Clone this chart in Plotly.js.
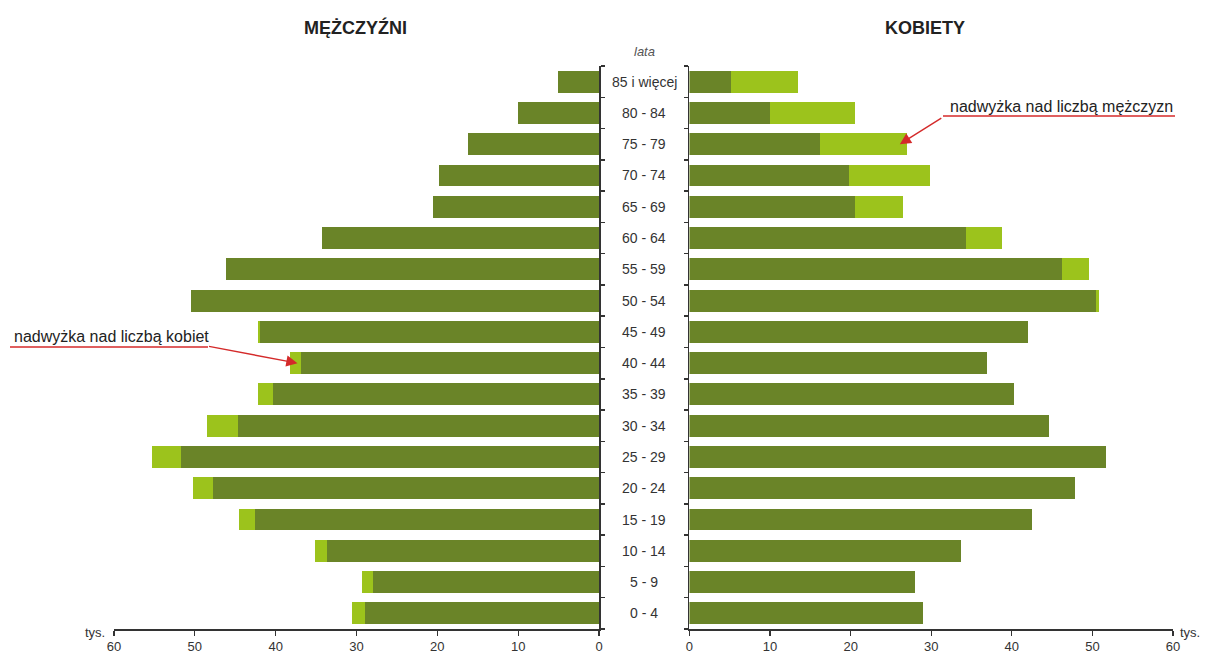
<!DOCTYPE html>
<html>
<head>
<meta charset="utf-8">
<script src="https://cdn.plot.ly/plotly-3.0.1.min.js"></script>
<style>html,body{margin:0;padding:0;background:#fff;}#chart{width:1205px;height:655px;}</style>
</head>
<body>
<div id="chart"></div>
<script>
// Age groups, youngest first (drawn bottom to top)
const ageGroups = ["0 - 4","5 - 9","10 - 14","15 - 19","20 - 24","25 - 29","30 - 34","35 - 39","40 - 44","45 - 49","50 - 54","55 - 59","60 - 64","65 - 69","70 - 74","75 - 79","80 - 84","85 i więcej"];
// Population in thousands (tys.)
const men   = [30.5, 29.3, 35.1, 44.5, 50.2, 55.3, 48.5, 42.2, 38.2, 42.2, 50.5, 46.2, 34.3, 20.5, 19.8, 16.2, 10.0, 5.1];
const women = [29.0, 28.0, 33.7, 42.5, 47.8, 51.7, 44.6, 40.3, 36.9, 42.0, 50.8, 49.6, 38.8, 26.5, 29.9, 27.0, 20.5, 13.5];
const xTicks = [0, 10, 20, 30, 40, 50, 60];

const DARK = '#6a8428';
const LIGHT = '#9cc31c';
const AXC = '#333333';
const FONT = '"Liberation Sans Narrow", "Arial Narrow", "Liberation Sans", Arial, sans-serif';
const FONT2 = '"Liberation Sans", Arial, sans-serif';

const menCommon = men.map((v, i) => Math.min(v, women[i]));
const menExcess = men.map((v, i) => Math.max(v - women[i], 0));
const womenCommon = women.map((v, i) => Math.min(v, men[i]));
const womenExcess = women.map((v, i) => Math.max(v - men[i], 0));

const barTrace = (x, color, xa, ya) => ({
  type: 'bar', orientation: 'h', x: x, y: ageGroups,
  xaxis: xa, yaxis: ya,
  marker: {color: color, line: {width: 0}},
  hoverinfo: 'x+y', showlegend: false
});

const data = [
  barTrace(menCommon, DARK, 'x', 'y'),
  barTrace(menExcess, LIGHT, 'x', 'y'),
  barTrace(womenCommon, DARK, 'x2', 'y2'),
  barTrace(womenExcess, LIGHT, 'x2', 'y2')
];

const xCommon = {
  tickvals: xTicks, ticktext: xTicks.map(String),
  ticks: 'outside', ticklen: 5, tickwidth: 1.2, tickcolor: AXC,
  showline: true, linecolor: AXC, linewidth: 1.5,
  showgrid: false, zeroline: false, fixedrange: true,
  tickfont: {family: FONT, size: 13, color: '#333'}
};
const yCommon = {
  type: 'category', categoryorder: 'array', categoryarray: ageGroups,
  range: [-0.5, ageGroups.length - 0.5],
  showticklabels: false, ticks: 'outside', tickson: 'boundaries',
  ticklen: 4, tickwidth: 1.5, tickcolor: AXC,
  showline: true, linecolor: AXC, linewidth: 1.5,
  showgrid: false, zeroline: false, fixedrange: true
};

const txt = (x, y, text, font, xanchor) => ({
  xref: 'paper', yref: 'paper', x: x, y: y, text: text, showarrow: false,
  xanchor: xanchor || 'center', yanchor: 'middle', font: font
});

const annotations = [
  txt(0.2276, 1.0675, '<b>MĘŻCZYŹNI</b>', {family: FONT2, size: 18, color: '#222'}),
  txt(0.7658, 1.0675, '<b>KOBIETY</b>', {family: FONT2, size: 18, color: '#222'}),
  txt(0.5007, 1.0249, '<i>lata</i>', {family: FONT2, size: 13, color: '#555'}),
  txt(-0.0179, -0.0071, 'tys.', {family: FONT, size: 13, color: '#333'}),
  txt(1.016, -0.0071, 'tys.', {family: FONT, size: 13, color: '#333'}),
  txt(-0.0963, 0.5187, 'nadwyżka nad liczbą kobiet', {family: FONT2, size: 16, color: '#222'}, 'left'),
  txt(0.7875, 0.9272, 'nadwyżka nad liczbą mężczyzn', {family: FONT2, size: 16, color: '#222'}, 'left'),
  {xref: 'x', yref: 'y', x: 37.3, y: '40 - 44', text: '', showarrow: true,
   arrowhead: 2, arrowsize: 1.6, arrowwidth: 1.4, arrowcolor: '#d42a2a', ax: -90, ay: -17, standoff: 0},
  {xref: 'x2', yref: 'y2', x: 26.1, y: '75 - 79', text: '', showarrow: true,
   arrowhead: 2, arrowsize: 1.6, arrowwidth: 1.4, arrowcolor: '#d42a2a', ax: 43, ay: -27, standoff: 0}
];
ageGroups.forEach(function (g) {
  annotations.push({xref: 'paper', yref: 'y', x: 0.5007, y: g, text: g, showarrow: false,
    xanchor: 'center', yanchor: 'middle',
    font: {family: FONT, size: 14, color: '#333'}});
});

const layout = {
  width: 1205, height: 655,
  margin: {l: 114, r: 32, t: 66, b: 26},
  paper_bgcolor: '#ffffff', plot_bgcolor: '#ffffff',
  barmode: 'stack', bargap: 0.3,
  showlegend: false,
  xaxis: Object.assign({}, xCommon, {domain: [0, 0.458], range: [60, 0], anchor: 'y'}),
  xaxis2: Object.assign({}, xCommon, {domain: [0.5434, 1], range: [0, 60], anchor: 'y2'}),
  yaxis: Object.assign({}, yCommon, {anchor: 'x', side: 'right'}),
  yaxis2: Object.assign({}, yCommon, {anchor: 'x2', side: 'left'}),
  annotations: annotations,
  shapes: [
    {type: 'line', xref: 'paper', yref: 'paper', x0: -0.0982, x1: 0.0888, y0: 0.5009, y1: 0.5009,
     line: {color: '#d42a2a', width: 1.4}},
    {type: 'line', xref: 'paper', yref: 'paper', x0: 0.7828, x1: 1.0019, y0: 0.9112, y1: 0.9112,
     line: {color: '#d42a2a', width: 1.4}}
  ]
};

Plotly.newPlot('chart', data, layout, {displayModeBar: false, staticPlot: true});
</script>
</body>
</html>
